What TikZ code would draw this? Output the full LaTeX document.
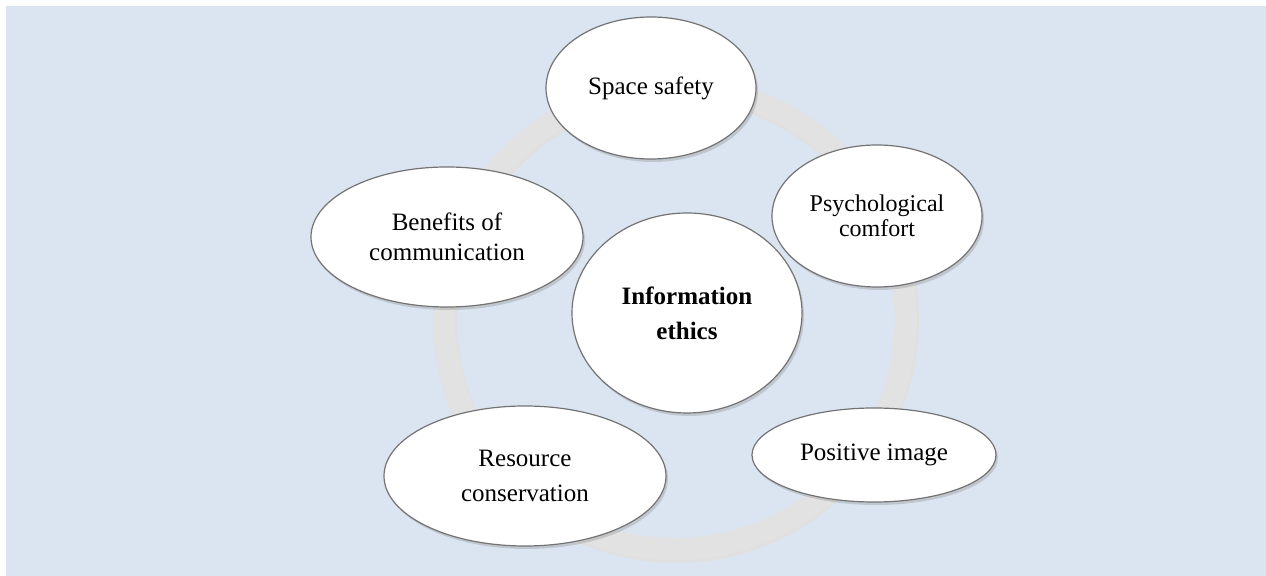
\documentclass[tikz,border=0pt]{standalone}
\usepackage{fontspec}
\setmainfont{Liberation Serif}
\usetikzlibrary{shapes.geometric,shadows,positioning}
\definecolor{bgblue}{RGB}{219,229,241}
\definecolor{ringgray}{RGB}{226,226,226}
\tikzset{
    %Define style for the outer ellipses
    petal/.style={
           ellipse,
           draw=black!55, line width=0.6pt,
           fill=white,
           inner sep=0pt,
           align=center,
           font=\fontsize{12.5}{15}\selectfont,
           drop shadow={shadow xshift=1pt,shadow yshift=-1.5pt,opacity=0.3}},
    %Define style for the centre
    hub/.style={
           petal,
           font=\bfseries\fontsize{12.5}{17.5}\selectfont},
    % Define style of the ring
    ring/.style={
           draw=ringgray,
           line width=11pt}
}

\begin{document}
\begin{tikzpicture}[x=0.5pt,y=-0.5pt]
         \useasboundingbox (0,0) rectangle (1266,576);
         \fill[bgblue] (6,6) rectangle (1266,576);
         %ring
          \coordinate (mid) at (675,318);
          \draw[black!12, line width=12pt] ([shift={(1,2)}]mid) circle[radius=115.5pt];
          \draw[ring] (mid) circle[radius=115.5pt];
         %nodes
          \node[hub, minimum width=115pt, minimum height=100pt] (ethics) at (687,313) {Information\\ethics};
          \node[petal, minimum width=105pt, minimum height=71pt] (safety) at (651,88) {Space safety};
          \node[petal, minimum width=105pt, minimum height=71pt, font=\fontsize{12}{12.5}\selectfont] (comfort) at (877,216) {Psychological\\comfort};
          \node[petal, minimum width=122pt, minimum height=47pt] (image) at (874,455) {Positive image};
          \node[petal, minimum width=141pt, minimum height=70pt, font=\fontsize{12.5}{17.5}\selectfont] (resource) at (525,476) {Resource\\conservation};
          \node[petal, minimum width=136pt, minimum height=70pt] (benefit) at (447,237) {Benefits of\\communication};
\end{tikzpicture}
\end{document}
